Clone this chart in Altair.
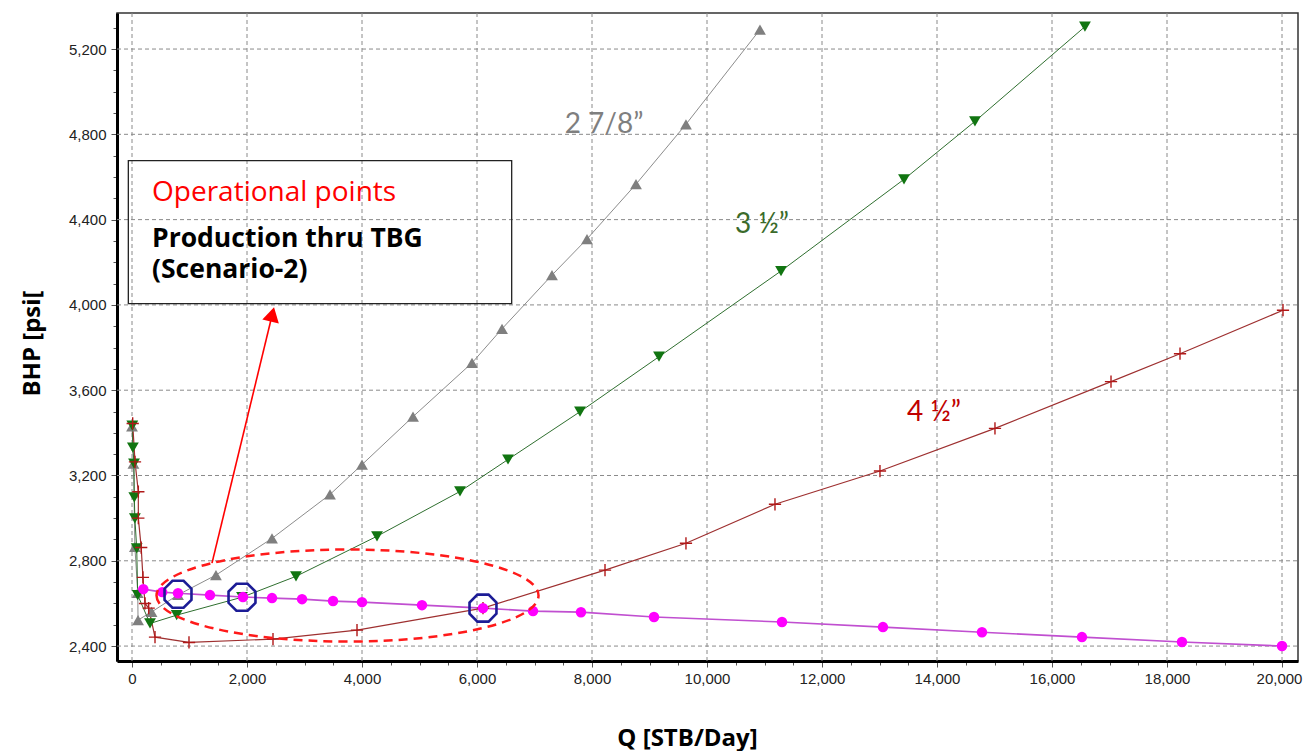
import altair as alt
import pandas as pd

# ---------------- data ----------------
q_278 = [0, 25, 50, 100, 105, 340, 800, 1460, 2435, 3443, 4000, 4887, 5913, 6435, 7304, 7913, 8765, 9634, 10921]
bhp_278 = [3430, 3256, 2865, 2650, 2522, 2560, 2640, 2733, 2905, 3111, 3251, 3476, 3728, 3888, 4140, 4309, 4566, 4847, 5291]

q_350 = [5, 15, 35, 40, 50, 82, 99, 313, 777, 1913, 2852, 4261, 5704, 6539, 7791, 9165, 11287, 13426, 14660, 16573]
bhp_350 = [3434, 3331, 3256, 3097, 2999, 2858, 2639, 2506, 2545, 2629, 2727, 2915, 3125, 3275, 3499, 3757, 4159, 4589, 4861, 5305]

q_450 = [12, 52, 110, 110, 160, 190, 226, 290, 400, 991, 2452, 3913, 6104, 8226, 9634, 11182, 13008, 15008, 17026, 18226, 20017]
bhp_450 = [3444, 3264, 3124, 3000, 2862, 2722, 2600, 2578, 2442, 2417, 2433, 2475, 2578, 2756, 2882, 3065, 3221, 3421, 3640, 3771, 3975]

q_ipr = [197, 525, 800, 1356, 1930, 2435, 2957, 3496, 4000, 5043, 6104, 6974, 7808, 9078, 11304, 13060, 14782, 16521, 18260, 20000]
bhp_ipr = [2667, 2653, 2648, 2639, 2630, 2625, 2620, 2611, 2606, 2592, 2578, 2564, 2559, 2536, 2513, 2489, 2465, 2442, 2419, 2400]

q_op = [800, 1913, 6104]
bhp_op = [2643, 2629, 2578]

curve_labels = ["2 7/8\u201d", "3 \u00bd\u201d", "4 \u00bd\u201d"]
curve_label_q = [8209, 10956, 13947]
curve_label_bhp = [4843, 4374, 3493]
curve_label_colors = ["#7f7f7f", "#3b6b2b", "#c00000"]

box_lines = ["Operational points", "Production thru TBG", "(Scenario-2)"]
box_line_bhp = [4488, 4271, 4126]
box_text_q = 348
box_q = [-64, 6603]
box_bhp = [4006, 4677]

ellipse_q, ellipse_bhp = [3748], [2637]
arrow_q = [1391, 2440]
arrow_bhp = [2789, 3956]

x_ticks = list(range(0, 20001, 500))
y_ticks = list(range(2400, 5301, 100))
x_grid = list(range(0, 20001, 2000))
y_grid = list(range(2400, 5201, 400))

X_DOM = [-261, 20278]
Y_DOM = [2330, 5369]

# ---------------- scales & axes ----------------
xs = alt.Scale(domain=X_DOM, nice=False, zero=False)
ys = alt.Scale(domain=Y_DOM, nice=False, zero=False)

x_axis = alt.Axis(
    values=x_ticks,
    labelExpr="datum.value % 2000 === 0 ? format(datum.value, ',') : ''",
    grid=False,
    tickSize={"condition": {"test": "datum.value % 2000 === 0", "value": 6}, "value": 4},
    domainColor="black", domainWidth=3, tickColor="#555", tickWidth=1,
    labelFont="Liberation Sans", labelFontSize=15, labelColor="#222", labelPadding=4,
    labelOffset={"condition": {"test": "datum.value === 20000", "value": -3}, "value": 0},
    labelOverlap=False, labelFlush=False, labelBound=False,
    title="Q [STB/Day]", titleFont="Open Sans", titleFontSize=24, titleFontWeight="bold",
    titleColor="black", titleX=570, titleY=77, titleBaseline="middle", titleAlign="center",
)
y_axis = alt.Axis(
    values=y_ticks,
    labelExpr="datum.value % 400 === 0 ? format(datum.value, ',') : ''",
    grid=False,
    tickSize={"condition": {"test": "datum.value % 400 === 0", "value": 6}, "value": 4},
    domainColor="black", domainWidth=3, tickColor="#555", tickWidth=1,
    labelFont="Liberation Sans", labelFontSize=15, labelColor="#222", labelPadding=5,
    labelOverlap=False, labelFlush=False, labelBound=False,
    title="BHP [psi[", titleFont="Open Sans", titleFontSize=24, titleFontWeight="bold",
    titleColor="black", titleX=-85, titleY=330, titleBaseline="middle", titleAlign="center", titleAngle=270,
)


def ex(field="Q"):
    return alt.X(f"{field}:Q", scale=xs, axis=x_axis)


def ey(field="BHP"):
    return alt.Y(f"{field}:Q", scale=ys, axis=y_axis)


def frame(q, b):
    return pd.DataFrame({"Q": q, "BHP": b, "i": list(range(len(q)))})


d278, d350, d450, dipr = frame(q_278, bhp_278), frame(q_350, bhp_350), frame(q_450, bhp_450), frame(q_ipr, bhp_ipr)
order = alt.Order("i:Q")

grid_style = dict(stroke="#8a8a8a", strokeWidth=1, strokeDash=[4, 3], opacity=1)
vgrid_df = pd.DataFrame({"Q": x_grid, "BHP": [Y_DOM[0]] * len(x_grid), "b2": [Y_DOM[1]] * len(x_grid)})
hgrid_df = pd.DataFrame({"BHP": y_grid, "Q": [X_DOM[0]] * len(y_grid), "q2": [X_DOM[1]] * len(y_grid)})
vgrid = alt.Chart(vgrid_df).mark_rule(**grid_style).encode(x=ex(), y=ey(), y2="b2:Q")
hgrid = alt.Chart(hgrid_df).mark_rule(**grid_style).encode(y=ey(), x=ex(), x2="q2:Q")

gray_line = alt.Chart(d278).mark_line(color="#8c8c8c", strokeWidth=1).encode(x=ex(), y=ey(), order=order)
green_line = alt.Chart(d350).mark_line(color="#2f6f2f", strokeWidth=1).encode(x=ex(), y=ey(), order=order)
red_line = alt.Chart(d450).mark_line(color="#9e3030", strokeWidth=1.2).encode(x=ex(), y=ey(), order=order)
ipr_line = alt.Chart(dipr).mark_line(color="#c04fd0", strokeWidth=1.6).encode(x=ex(), y=ey(), order=order)

gray_pts = alt.Chart(d278).mark_point(shape="triangle-up", filled=True, color="#7f7f7f", size=140, opacity=1).encode(x=ex(), y=ey())
green_pts = alt.Chart(d350).mark_point(shape="triangle-down", filled=True, color="#117511", size=140, opacity=1).encode(x=ex(), y=ey())
red_pts = alt.Chart(d450).mark_point(shape="M-1,0L1,0M0,-1L0,1", filled=False, stroke="#b01818", strokeWidth=1.4, size=150, opacity=1).encode(x=ex(), y=ey())
ipr_pts = alt.Chart(dipr).mark_point(shape="circle", filled=True, color="#ff00ff", size=110, opacity=1).encode(x=ex(), y=ey())

octagon = "M0.924,0.383L0.383,0.924L-0.383,0.924L-0.924,0.383L-0.924,-0.383L-0.383,-0.924L0.383,-0.924L0.924,-0.383Z"
op_pts = alt.Chart(frame(q_op, bhp_op)).mark_point(shape=octagon, filled=False, stroke="#1c1c96", strokeWidth=2.6, size=850, opacity=1).encode(x=ex(), y=ey())

ellipse = alt.Chart(frame(ellipse_q, ellipse_bhp)).mark_point(
    shape="M-1,0A1,0.241,0,1,0,1,0A1,0.241,0,1,0,-1,0Z", filled=False, stroke="#ff1a1a",
    strokeWidth=2.5, strokeDash=[9, 6], size=145924, opacity=1,
).encode(x=ex(), y=ey())

arrow_df = frame(arrow_q, arrow_bhp)
arrow_line = alt.Chart(arrow_df).mark_line(color="#ff0000", strokeWidth=1.6).encode(x=ex(), y=ey(), order=order)
arrow_head = alt.Chart(arrow_df.iloc[[1]]).mark_point(shape="triangle-up", filled=True, color="#ff0000", size=289, angle=13.6, opacity=1).encode(x=ex(), y=ey())

box = alt.Chart(pd.DataFrame({"Q": [box_q[0]], "q2": [box_q[1]], "BHP": [box_bhp[0]], "b2": [box_bhp[1]]})).mark_rect(
    fillOpacity=0, stroke="#222", strokeWidth=1.3
).encode(x=ex(), x2="q2:Q", y=ey(), y2="b2:Q")

box_df = pd.DataFrame({"Q": [box_text_q] * 3, "BHP": box_line_bhp, "t": box_lines})
box_red = alt.Chart(box_df.iloc[[0]]).mark_text(align="left", baseline="alphabetic", font="Open Sans", fontSize=28, color="#ff0000").encode(x=ex(), y=ey(), text="t:N")
box_black = alt.Chart(box_df.iloc[1:]).mark_text(align="left", baseline="alphabetic", font="Open Sans", fontSize=26.5, fontWeight="bold", color="black").encode(x=ex(), y=ey(), text="t:N")

lab_df = pd.DataFrame({"Q": curve_label_q, "BHP": curve_label_bhp, "t": curve_labels, "c": curve_label_colors})
labels = alt.Chart(lab_df).mark_text(align="center", baseline="middle", font="Lato", fontSize=28).encode(
    x=ex(), y=ey(), text="t:N", color=alt.Color("c:N", scale=None)
)

chart = alt.layer(
    vgrid, hgrid,
    gray_line, green_line, red_line, ipr_line,
    gray_pts, green_pts, red_pts, ipr_pts, op_pts,
    ellipse, arrow_line, arrow_head, box, box_red, box_black, labels,
).properties(
    width=1181, height=648,
    padding={"left": 117, "top": 13, "right": 6, "bottom": 90},
    autosize=alt.AutoSizeParams(type="none"),
    background="white",
).configure_view(stroke="#333", strokeWidth=1.5).configure_axis(grid=False)

chart.save("out.html", embed_options={"renderer": "svg", "actions": False})
